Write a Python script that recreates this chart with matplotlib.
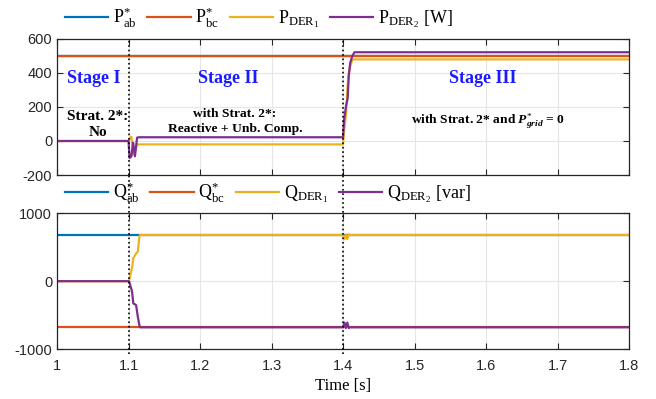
import numpy as np
import matplotlib
matplotlib.use('Agg')
import matplotlib.pyplot as plt

plt.rcParams['font.family'] = ['Liberation Sans', 'DejaVu Sans']
plt.rcParams['axes.unicode_minus'] = False
plt.rcParams['mathtext.fontset'] = 'custom'
plt.rcParams['mathtext.rm'] = 'Liberation Serif'
plt.rcParams['mathtext.it'] = 'Liberation Serif:italic:bold'
plt.rcParams['mathtext.bf'] = 'Liberation Serif:bold'

# active power (top panel)
t_p = [1.0, 1.1, 1.1015, 1.104, 1.1065, 1.109, 1.112, 1.115, 1.117,
       1.4, 1.4015, 1.404, 1.4065, 1.408, 1.41, 1.413, 1.416, 1.8]
p_ab_ref = [500] * len(t_p)
p_bc_ref = [500] * len(t_p)
p_der1 = [0, 0, 15, 25, -80, -60, -20, -20, -20,
          -20, 60, 150, 330, 400, 440, 478, 480, 480]
p_der2 = [0, 0, -100, -90, -10, -90, 20, 22, 22,
          22, 124, 200, 250, 378, 459, 500, 522, 522]

# reactive power (bottom panel)
t_q = [1.0, 1.1, 1.101, 1.105, 1.1067, 1.1106, 1.113, 1.1152, 1.116,
       1.4, 1.402, 1.404, 1.406, 1.408, 1.41, 1.412, 1.8]
q_ab_ref = [680] * len(t_q)
q_bc_ref = [-680] * len(t_q)
q_der1 = [0, 0, 17, 200, 335, 410, 434, 655, 680,
          680, 620, 690, 620, 690, 680, 680, 680]
q_der2 = [0, 0, -8, -155, -327, -352, -524, -650, -680,
          -680, -610, -690, -610, -690, -680, -680, -680]

x_ticks = [1, 1.1, 1.2, 1.3, 1.4, 1.5, 1.6, 1.7, 1.8]
x_labels = ['1', '1.1', '1.2', '1.3', '1.4', '1.5', '1.6', '1.7', '1.8']
events = [1.1, 1.4]

colors = ['#0072BD', '#D95319', '#EDB120', '#7E2F8E']

fig = plt.figure(figsize=(6.56, 3.99), dpi=100)
ax1 = fig.add_axes([0.0869, 0.5614, 0.872, 0.3409])
ax2 = fig.add_axes([0.0869, 0.1253, 0.872, 0.3400])

p_labels = [r'$\mathrm{P}_{\mathrm{ab}}^{*}$', r'$\mathrm{P}_{\mathrm{bc}}^{*}$',
            r'$\mathrm{P}_{\mathrm{DER}_{1}}$', r'$\mathrm{P}_{\mathrm{DER}_{2}}$ $\mathrm{[W]}$']
q_labels = [r'$\mathrm{Q}_{\mathrm{ab}}^{*}$', r'$\mathrm{Q}_{\mathrm{bc}}^{*}$',
            r'$\mathrm{Q}_{\mathrm{DER}_{1}}$', r'$\mathrm{Q}_{\mathrm{DER}_{2}}$ $\mathrm{[var]}$']

for ys, c, lab in zip([p_ab_ref, p_bc_ref, p_der1, p_der2], colors, p_labels):
    ax1.plot(t_p, ys, color=c, lw=1.6, label=lab)
for ys, c, lab in zip([q_ab_ref, q_bc_ref, q_der1, q_der2], colors, q_labels):
    ax2.plot(t_q, ys, color=c, lw=1.6, label=lab)

for ax in (ax1, ax2):
    ax.set_xlim(1, 1.8)
    ax.set_xticks(x_ticks)
    ax.grid(True, color='#e6e6e6', lw=0.8)
    ax.set_axisbelow(True)
    ax.tick_params(direction='in', top=True, right=True, labelsize=10.5,
                   colors='#262626', length=4)
    ax.tick_params(axis='x', pad=7)
    for s in ax.spines.values():
        s.set_color('#262626')
        s.set_linewidth(0.9)

ax1.set_ylim(-200, 600)
ax1.set_yticks([-200, 0, 200, 400, 600])
ax1.set_xticklabels([])
ax2.set_ylim(-1000, 1000)
ax2.set_yticks([-1000, 0, 1000])
ax2.set_xticklabels(x_labels)
ax2.set_xlabel('Time [s]', family='Liberation Serif', fontsize=12, labelpad=4)

for t in events:
    ax1.axvline(t, color='black', ls=':', lw=1.2, zorder=5)
    ax2.axvline(t, ymin=-0.04, ymax=1.28, color='black', ls=':', lw=1.2,
                zorder=5, clip_on=False)

leg_kw = dict(ncol=4, frameon=False, fontsize=13, handlelength=2.4,
              columnspacing=0.6, handletextpad=0.25, loc='center')
ax1.legend(bbox_to_anchor=(0.353, 1.155), **leg_kw)
ax2.legend(bbox_to_anchor=(0.369, 1.155), **leg_kw)

stage_kw = dict(color='#1a1aff', fontsize=13, fontweight='bold',
                family='Liberation Serif', ha='center', va='center')
ax1.text(1.051, 370, 'Stage I', **stage_kw)
ax1.text(1.24, 370, 'Stage II', **stage_kw)
ax1.text(1.595, 365, 'Stage III', **stage_kw)

note_kw = dict(fontweight='bold', family='Liberation Serif',
               ha='center', va='center', linespacing=1.3)
ax1.text(1.057, 95, 'Strat. 2*:\nNo', fontsize=11, **note_kw)
ax1.text(1.249, 115, 'with Strat. 2*:\nReactive + Unb. Comp.', fontsize=9.7, **note_kw)
ax1.text(1.602, 110, r'with Strat. 2* and $P^{*}_{grid}$ = 0', fontsize=9.7, **note_kw)

fig.savefig('out.png', dpi=100)
